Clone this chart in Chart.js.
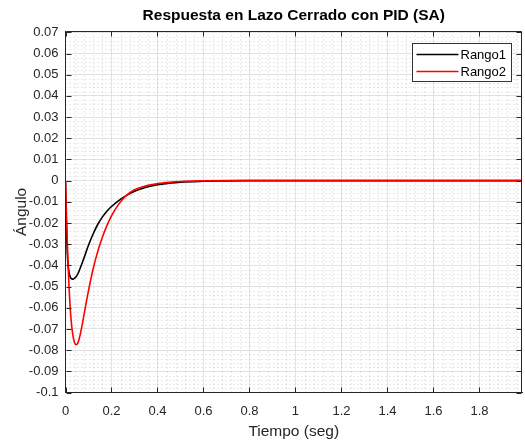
<!DOCTYPE html>
<html>
<head>
<meta charset="utf-8">
<script src="https://cdn.jsdelivr.net/npm/chart.js@4.4.0/dist/chart.umd.min.js"></script>
<style>
  html, body { margin: 0; padding: 0; background: #fff; }
  canvas { display: block; }
</style>
</head>
<body>
<canvas id="pidChart" width="525" height="444"></canvas>
<script>
// Respuesta en lazo cerrado
const tiempo = [0, 0.004, 0.008, 0.012, 0.016, 0.02, 0.025, 0.03, 0.035, 0.04, 0.045, 0.05, 0.055,
    0.06, 0.07, 0.08, 0.09, 0.10, 0.12, 0.14, 0.16, 0.18, 0.20, 0.23, 0.26, 0.30, 0.35, 0.40,
    0.45, 0.50, 0.60, 0.70, 0.80, 1.0, 1.5, 2.0];
const rango1 = [0, -0.022, -0.0345, -0.0405, -0.0437, -0.0453, -0.0462, -0.0465, -0.0464, -0.0460, -0.0455, -0.0447, -0.0437,
    -0.0424, -0.0396, -0.0366, -0.0335, -0.0305, -0.0252, -0.0207, -0.0172, -0.0144, -0.0122, -0.0095, -0.0073, -0.0050, -0.0031, -0.0019,
    -0.0012, -0.0007, -0.0003, -0.0001, 0, 0, 0, 0];
const rango2 = [0, -0.015, -0.0295, -0.0415, -0.0515, -0.0593, -0.0665, -0.0714, -0.0747, -0.0766, -0.0774, -0.0772, -0.0762,
    -0.0745, -0.0695, -0.0636, -0.0576, -0.0519, -0.0417, -0.0335, -0.0268, -0.0212, -0.0166, -0.0113, -0.0074, -0.0043, -0.0024, -0.0014,
    -0.0008, -0.0004, -0.0001, 0, 0, 0, 0, 0];

const xTicks = [0, 0.2, 0.4, 0.6, 0.8, 1, 1.2, 1.4, 1.6, 1.8];
const yTicks = [-0.1, -0.09, -0.08, -0.07, -0.06, -0.05, -0.04, -0.03, -0.02, -0.01, 0,
    0.01, 0.02, 0.03, 0.04, 0.05, 0.06, 0.07];

const titulo = 'Respuesta en Lazo Cerrado con PID (SA)';

const FONT = "Arial, 'Liberation Sans', Helvetica, sans-serif";
const AXIS = '#262626';

function toPoints(ys) {
    return tiempo.map((t, i) => ({ x: t, y: ys[i] }));
}

// grid menor punteado, caja completa, marcas hacia dentro, titulo y leyenda
const matlabAxes = {
    id: 'matlabAxes',
    beforeDatasetsDraw(chart) {
        const { ctx, chartArea: a, scales: { x, y } } = chart;
        ctx.save();
        ctx.strokeStyle = 'rgba(38,38,38,0.2)';
        ctx.lineWidth = 1;
        ctx.setLineDash([1, 3]);
        for (let i = 1; i * 0.04 <= x.max; i++) {
            if (i % 5 === 0) continue;
            const px = Math.round(x.getPixelForValue(i * 0.04)) + 0.5;
            ctx.beginPath(); ctx.moveTo(px, a.top); ctx.lineTo(px, a.bottom); ctx.stroke();
        }
        for (let j = 1; y.min + j * 0.002 <= y.max; j++) {
            if (j % 5 === 0) continue;
            const py = Math.round(y.getPixelForValue(y.min + j * 0.002)) + 0.5;
            ctx.beginPath(); ctx.moveTo(a.left, py); ctx.lineTo(a.right, py); ctx.stroke();
        }
        ctx.restore();
    },
    afterDatasetsDraw(chart) {
        const { ctx, chartArea: a, scales: { x, y } } = chart;
        ctx.save();
        ctx.strokeStyle = AXIS;
        ctx.lineWidth = 1;
        const L = Math.round(a.left) + 0.5, R = Math.round(a.right) - 0.5;
        const T = Math.round(a.top) + 0.5, B = Math.round(a.bottom) - 0.5;
        ctx.beginPath();
        ctx.moveTo(L, T); ctx.lineTo(R, T); ctx.lineTo(R, B);
        xTicks.forEach(v => {
            const px = Math.round(x.getPixelForValue(v)) + 0.5;
            ctx.moveTo(px, B); ctx.lineTo(px, B - 5);
            ctx.moveTo(px, T); ctx.lineTo(px, T + 5);
        });
        yTicks.forEach(v => {
            const py = Math.round(y.getPixelForValue(v)) + 0.5;
            ctx.moveTo(L, py); ctx.lineTo(L + 5, py);
            ctx.moveTo(R, py); ctx.lineTo(R - 5, py);
        });
        ctx.stroke();

        // titulo centrado sobre el area de trazado
        ctx.fillStyle = '#000';
        ctx.font = 'bold 15.5px ' + FONT;
        ctx.textAlign = 'center';
        ctx.textBaseline = 'middle';
        ctx.fillText(titulo, (a.left + a.right) / 2, 15.5);

        // leyenda
        const bx = Math.round(a.right) - 109.5, by = Math.round(a.top) + 12.5;
        const bw = 99, bh = 38;
        ctx.fillStyle = '#fff';
        ctx.fillRect(bx, by, bw, bh);
        ctx.strokeStyle = '#333';
        ctx.strokeRect(bx, by, bw, bh);
        ctx.font = '13px ' + FONT;
        ctx.textAlign = 'left';
        chart.data.datasets.forEach((ds, i) => {
            const ly = by + 11 + i * 17;
            ctx.strokeStyle = ds.borderColor;
            ctx.lineWidth = 1.5;
            ctx.beginPath(); ctx.moveTo(bx + 4, ly); ctx.lineTo(bx + 46, ly); ctx.stroke();
            ctx.fillStyle = '#000';
            ctx.fillText(ds.label, bx + 48, ly + 0.5);
        });
        ctx.restore();
    }
};

new Chart(document.getElementById('pidChart'), {
    type: 'line',
    data: {
        datasets: [{
            label: 'Rango1',
            data: toPoints(rango1),
            borderColor: '#000000',
            borderWidth: 1.6,
            pointRadius: 0,
            cubicInterpolationMode: 'monotone',
            order: 1
        }, {
            label: 'Rango2',
            data: toPoints(rango2),
            borderColor: '#ff0000',
            borderWidth: 1.6,
            pointRadius: 0,
            cubicInterpolationMode: 'monotone',
            order: 0
        }]
    },
    options: {
        responsive: false,
        animation: false,
        layout: { padding: { left: 0, right: 3, top: 31.3, bottom: 0 } },
        plugins: {
            legend: { display: false },
            tooltip: { enabled: false },
            title: { display: false }
        },
        scales: {
            x: {
                type: 'linear',
                min: 0,
                max: 1.985,
                afterBuildTicks: s => { s.ticks = xTicks.map(v => ({ value: v })); },
                afterFit: s => { s.height = 51.5; },
                ticks: {
                    color: AXIS,
                    font: { family: FONT, size: 13 },
                    padding: 11,
                    maxRotation: 0,
                    callback: v => String(Number(v.toFixed(1)))
                },
                grid: { color: '#e2e2e2', drawTicks: false },
                border: { display: true, color: AXIS, width: 1 },
                title: {
                    display: true,
                    text: 'Tiempo (seg)',
                    color: AXIS,
                    font: { family: FONT, size: 15.5 },
                    padding: { top: 0, bottom: 3 }
                }
            },
            y: {
                type: 'linear',
                min: -0.1,
                max: 0.0705,
                afterBuildTicks: s => { s.ticks = yTicks.map(v => ({ value: v })); },
                afterFit: s => { s.width = 65.5; },
                ticks: {
                    color: AXIS,
                    font: { family: FONT, size: 13 },
                    padding: 7,
                    callback: v => String(Number(v.toFixed(2)))
                },
                grid: { color: '#e2e2e2', drawTicks: false },
                border: { display: true, color: AXIS, width: 1 },
                title: {
                    display: true,
                    text: 'Ángulo',
                    color: AXIS,
                    font: { family: FONT, size: 15.5 },
                    padding: { top: 12.5, bottom: 0 }
                }
            }
        }
    },
    plugins: [matlabAxes]
});
</script>
</body>
</html>
